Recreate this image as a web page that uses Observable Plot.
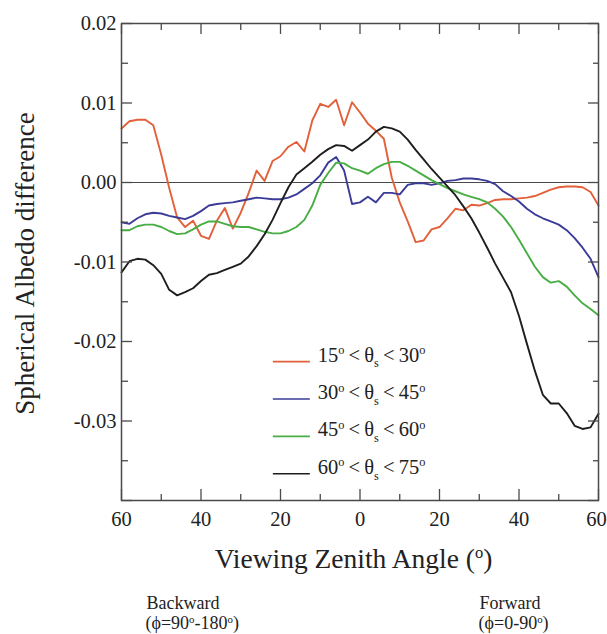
<!DOCTYPE html>
<html>
<head>
<meta charset="utf-8">
<script src="https://cdn.jsdelivr.net/npm/d3@7"></script>
<script src="https://cdn.jsdelivr.net/npm/@observablehq/plot@0.6"></script>
<style>
  html, body { margin: 0; padding: 0; background: white; }
</style>
</head>
<body>
<div id="chart"></div>
<script>
// Viewing zenith angle: negative = backward (phi 90-180), positive = forward (phi 0-90)
const angles = d3.range(-60, 61, 2);

const series1530 = [0.0068,0.0077,0.0079,0.0079,0.0072,0.0035,-0.0007,-0.0044,-0.0056,-0.0048,-0.0067,-0.0071,-0.0048,-0.0032,-0.0058,-0.0038,-0.0013,0.0015,0.0002,0.0027,0.0033,0.0045,0.0051,0.0039,0.0078,0.0099,0.0095,0.0104,0.0072,0.0101,0.0088,0.0074,0.0065,0.0055,0.0006,-0.0025,-0.0049,-0.0075,-0.0073,-0.0059,-0.0056,-0.0045,-0.0033,-0.0035,-0.0028,-0.0029,-0.0026,-0.0022,-0.0021,-0.0021,-0.002,-0.0019,-0.0017,-0.0013,-0.0009,-0.0006,-0.0005,-0.0005,-0.0006,-0.0012,-0.0029];
const series3045 = [-0.005,-0.0052,-0.0045,-0.004,-0.0038,-0.0039,-0.0042,-0.0044,-0.0046,-0.0042,-0.0036,-0.0029,-0.0027,-0.0026,-0.0025,-0.0023,-0.0021,-0.0019,-0.002,-0.0021,-0.0021,-0.0019,-0.0015,-0.0008,-0.0001,0.0009,0.0025,0.0032,0.0015,-0.0027,-0.0025,-0.0018,-0.0025,-0.0013,-0.0013,-0.0015,-0.0003,-0.0001,-0.0001,-0.0003,-0.0001,0.0002,0.0003,0.0005,0.0005,0.0004,0.0002,-0.0002,-0.0011,-0.0017,-0.0024,-0.0033,-0.004,-0.0045,-0.0049,-0.0053,-0.006,-0.007,-0.0082,-0.0096,-0.0119];
const series4560 = [-0.006,-0.006,-0.0055,-0.0053,-0.0053,-0.0056,-0.0061,-0.0065,-0.0064,-0.0059,-0.0053,-0.0049,-0.0049,-0.0052,-0.0055,-0.0056,-0.0056,-0.0059,-0.0062,-0.0064,-0.0064,-0.0061,-0.0056,-0.0047,-0.0029,-0.0003,0.0012,0.0025,0.0024,0.0018,0.0015,0.0011,0.0018,0.0023,0.0026,0.0026,0.0021,0.0015,0.0009,0.0003,-0.0002,-0.0007,-0.0011,-0.0015,-0.0018,-0.0021,-0.0025,-0.0033,-0.0043,-0.0056,-0.0072,-0.0089,-0.0106,-0.0119,-0.0126,-0.0124,-0.0131,-0.0142,-0.0152,-0.0159,-0.0167];
const series6075 = [-0.0113,-0.0099,-0.0096,-0.0097,-0.0104,-0.0115,-0.0135,-0.0142,-0.0138,-0.0133,-0.0124,-0.0116,-0.0114,-0.011,-0.0106,-0.0102,-0.0093,-0.008,-0.0065,-0.0047,-0.0026,-0.0006,0.001,0.0018,0.0026,0.0035,0.0042,0.0047,0.0046,0.004,0.0047,0.0054,0.0064,0.007,0.0068,0.0064,0.0054,0.0041,0.0029,0.0017,0.0006,-0.0005,-0.0016,-0.003,-0.0045,-0.0063,-0.0082,-0.0102,-0.012,-0.0138,-0.0168,-0.0203,-0.0237,-0.0267,-0.0278,-0.0278,-0.029,-0.0306,-0.031,-0.0308,-0.0291];

const seriesNames = ["15-30", "30-45", "45-60", "60-75"];
const seriesLo = ["15", "30", "45", "60"];
const seriesHi = ["30", "45", "60", "75"];
const seriesColors = ["#e2603a", "#3b3b98", "#48ad44", "#1e1e1e"];
const seriesValues = [series1530, series3045, series4560, series6075];

const xMajorTicks = [-60, -40, -20, 0, 20, 40, 60];
const xLabelTicks = [-60, -40, -20, 0, 20, 40];
const xLabelEdge = [60];
const xMinorTicks = [-50, -30, -10, 10, 30, 50];
const yMajorTicks = [-0.04, -0.03, -0.02, -0.01, 0, 0.01, 0.02];
const yLabelTicks = [-0.03, -0.02, -0.01, 0, 0.01, 0.02];
const yMinorTicks = [-0.035, -0.025, -0.015, -0.005, 0.005, 0.015];

const rows = [];
seriesNames.forEach((name, i) => {
  angles.forEach((a, j) => rows.push({series: name, angle: a, value: seriesValues[i][j]}));
});

const font = "'Liberation Serif', 'Times New Roman', serif";
const frameColor = "#4a4a4a";
const absFmt = d => String(Math.abs(d));

const plot = Plot.plot({
  width: 607,
  height: 634,
  marginTop: 23,
  marginLeft: 121,
  marginRight: 9,
  marginBottom: 134,
  style: {fontFamily: font, fontSize: "20px", background: "white", color: "#222"},
  x: {domain: [-60, 60], label: null},
  y: {domain: [-0.04, 0.02], label: null},
  color: {domain: seriesNames, range: seriesColors},
  marks: [
    Plot.ruleY([0], {stroke: frameColor, strokeWidth: 1.2}),
    Plot.line(rows, {x: "angle", y: "value", z: "series", stroke: "series", strokeWidth: 1.9, strokeLinejoin: "round"}),
    // tick labels
    Plot.axisX(xLabelTicks, {anchor: "bottom", tickSize: 0, tickPadding: 11, tickFormat: absFmt, fontSize: 20.5, fill: "#222", label: null}),
    Plot.axisX(xLabelEdge, {anchor: "bottom", tickSize: 0, tickPadding: 11, tickFormat: absFmt, fontSize: 20.5, fill: "#222", label: null, dx: -2}),
    Plot.axisY(yLabelTicks, {anchor: "left", tickSize: 0, tickPadding: 5, tickFormat: d => d.toFixed(2), fontSize: 20.5, fill: "#222", label: null}),
    // inward ticks: bottom
    Plot.axisX(xMajorTicks, {anchor: "bottom", tickSize: 11, dy: -11, fill: "none", stroke: frameColor, strokeWidth: 1.3, label: null}),
    Plot.axisX(xMinorTicks, {anchor: "bottom", tickSize: 6, dy: -6, fill: "none", stroke: frameColor, strokeWidth: 1.3, label: null}),
    // top
    Plot.axisX(xMajorTicks, {anchor: "top", tickSize: 10, dy: 10, fill: "none", stroke: frameColor, strokeWidth: 1.3, label: null}),
    Plot.axisX(xMinorTicks, {anchor: "top", tickSize: 6, dy: 6, fill: "none", stroke: frameColor, strokeWidth: 1.3, label: null}),
    // left
    Plot.axisY(yMajorTicks, {anchor: "left", tickSize: 11, dx: 11, fill: "none", stroke: frameColor, strokeWidth: 1.3, label: null}),
    Plot.axisY(yMinorTicks, {anchor: "left", tickSize: 7, dx: 7, fill: "none", stroke: frameColor, strokeWidth: 1.3, label: null}),
    // right
    Plot.axisY(yMajorTicks, {anchor: "right", tickSize: 11, dx: -11, fill: "none", stroke: frameColor, strokeWidth: 1.3, label: null}),
    Plot.axisY(yMinorTicks, {anchor: "right", tickSize: 6, dx: -6, fill: "none", stroke: frameColor, strokeWidth: 1.3, label: null}),
    Plot.frame({stroke: frameColor, strokeWidth: 1.5})
  ]
});

document.getElementById("chart").appendChild(plot);

// Extra text and legend, positioned relative to the plot frame
const svg = d3.select(plot);
const xs = plot.scale("x"), ys = plot.scale("y");
const frameLeft = xs.apply(-60), frameRight = xs.apply(60);
const frameTop = ys.apply(0.02), frameBottom = ys.apply(-0.04);

// write rich text: parts [{t, sup}|{t, sub}|{t}] with shifts reset on each part
function rich(textSel, parts, size) {
  let shift = 0;
  parts.forEach(p => {
    const target = p.sup ? -size * 0.36 : p.sub ? size * 0.28 : 0;
    const ts = textSel.append("tspan").attr("dy", target - shift).text(p.t);
    if (p.sup || p.sub) ts.attr("font-size", size * 0.6);
    shift = target;
  });
}

// y-axis title
svg.append("text")
  .attr("transform", `translate(25,${(frameTop + frameBottom) / 2 + 2}) rotate(-90)`)
  .attr("text-anchor", "middle").attr("dominant-baseline", "central")
  .attr("font-family", font).attr("font-size", 27).attr("fill", "#222")
  .text("Spherical Albedo difference");

// x-axis title
const xt = svg.append("text")
  .attr("x", (frameLeft + frameRight) / 2 - 6).attr("y", frameBottom + 68)
  .attr("text-anchor", "middle")
  .attr("font-family", font).attr("font-size", 27.5).attr("fill", "#222");
rich(xt, [{t: "Viewing Zenith Angle ("}, {t: "o", sup: true}, {t: ")"}], 27.5);

// Backward / Forward annotations (left-aligned blocks)
function annot(xval, l1, l2parts) {
  const lx = xs.apply(xval);
  svg.append("text").attr("x", lx).attr("y", frameBottom + 109)
    .attr("text-anchor", "start").attr("font-family", font).attr("font-size", 18).attr("fill", "#222")
    .text(l1);
  const t = svg.append("text").attr("x", lx - 1).attr("y", frameBottom + 129)
    .attr("text-anchor", "start").attr("font-family", font).attr("font-size", 18).attr("fill", "#222");
  rich(t, l2parts, 18);
}
annot(-53.6, "Backward", [{t: "(\u03d5=90"}, {t: "o", sup: true}, {t: "-180"}, {t: "o", sup: true}, {t: ")"}]);
annot(30.2, "Forward", [{t: "(\u03d5=0-90"}, {t: "o", sup: true}, {t: ")"}]);

// Legend
const legendX = xs.apply(-21.8);
const legendY0 = ys.apply(-0.0226);
const legendStep = ys.apply(-0.0275) - ys.apply(-0.0228);
seriesNames.forEach((name, i) => {
  const y = legendY0 + i * legendStep;
  svg.append("line").attr("x1", legendX).attr("x2", legendX + 37).attr("y1", y).attr("y2", y)
    .attr("stroke", seriesColors[i]).attr("stroke-width", 1.6);
  const t = svg.append("text").attr("x", legendX + 45).attr("y", y).attr("dy", "0.33em")
    .attr("text-anchor", "start")
    .attr("font-family", font).attr("font-size", 20.5).attr("fill", "#222");
  rich(t, [
    {t: seriesLo[i]}, {t: "o", sup: true}, {t: "\u2009<\u2009\u03b8"}, {t: "s", sub: true},
    {t: "\u2009<\u2009" + seriesHi[i]}, {t: "o", sup: true}
  ], 20.5);
});
</script>
</body>
</html>
